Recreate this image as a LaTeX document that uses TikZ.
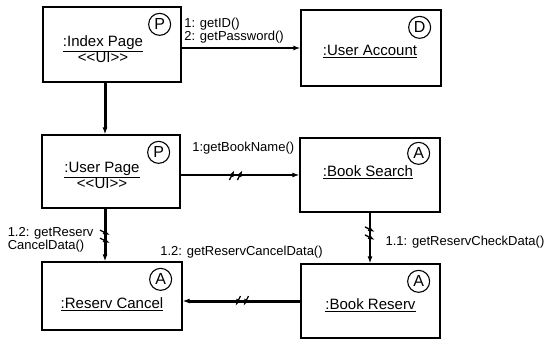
\documentclass[tikz,border=0pt]{standalone}
\usepackage{fontspec}
\setmainfont{Liberation Sans}
\usetikzlibrary{arrows.meta,positioning,calc,decorations.markings}

\begin{document}
\begin{tikzpicture}[x=1pt,y=1pt,>={Latex[length=7pt,width=5pt]},
    obj/.style={draw,line width=1.3pt,minimum width=140pt,minimum height=74pt,inner sep=0pt},
    objname/.style={font=\fontsize{15}{15.5}\selectfont,align=center,inner sep=0pt},
    kind/.style={draw,circle,line width=1.1pt,minimum size=22pt,inner sep=0pt,font=\fontsize{16}{16}\selectfont},
    msg/.style={font=\fontsize{13}{12}\selectfont,align=left,inner sep=1pt},
    thinlink/.style={->,line width=1.3pt},
    thicklink/.style={->,line width=3pt},
    slashes/.style={postaction={decorate},decoration={markings,
        mark=at position #1 with {\draw[line width=1.3pt] (-7,-5) -- (-2,5);
                                  \draw[line width=1.3pt] (1,-5) -- (6,5);}}}]
    \useasboundingbox (0,0) rectangle (550,341);

    % Objects
    \node[obj,minimum width=138pt,minimum height=75pt] (idx) at (112,296.5) {};
    \node[obj,minimum height=76pt] (acct) at (371,293) {};
    \node[obj,minimum width=138pt,minimum height=73pt] (user) at (111,169.5) {};
    \node[obj] (search) at (370,166) {};
    \node[obj,minimum height=68pt] (cancel) at (112,45) {};
    \node[obj,minimum width=139pt] (reserv) at (370.5,40) {};

    % Object names
    \node[objname] (idxname) at ([shift={(-9,-43)}]idx.north) {\underline{:Index Page}\\<{}<UI>{}>};
    \node[objname] (acctname) at ([shift={(-1,-42)}]acct.north) {\underline{:User Account}};
    \node[objname] (username) at ([shift={(-9,-41)}]user.north) {\underline{:User Page}\\<{}<UI>{}>};
    \node[objname] (searchname) at ([shift={(-2,-35)}]search.north) {\underline{:Book Search}};
    \node[objname] (cancelname) at ([shift={(0,-43)}]cancel.north) {\underline{:Reserv Cancel}};
    \node[objname] (reservname) at ([shift={(0,-42)}]reserv.north) {\underline{:Book Reserv}};

    % Stereotype circles
    \node[kind] (idxkind) at ([shift={(-22,-18)}]idx.north east) {P};
    \node[kind] (acctkind) at ([shift={(-22,-18)}]acct.north east) {D};
    \node[kind] (userkind) at ([shift={(-22,-18)}]user.north east) {P};
    \node[kind] (searchkind) at ([shift={(-22,-16)}]search.north east) {A};
    \node[kind] (cancelkind) at ([shift={(-22,-18)}]cancel.north east) {A};
    \node[kind] (reservkind) at ([shift={(-22,-18)}]reserv.north east) {A};

    % Messages
    \draw[thinlink] (idx.east |- acct.west) -- (acct.west)
        node[pos=0,msg,above right=3pt and 1pt] {1: getID()\\2: getPassword()};
    \draw[thicklink] ([xshift=-7pt]idx.south) -- ([xshift=-6pt]user.north);
    \draw[thinlink,slashes=0.47] (user.east |- search.west) -- (search.west)
        node[pos=0,msg,anchor=west,xshift=10pt,yshift=27pt] {1:getBookName()};
    \draw[thicklink,slashes=0.54] ([xshift=-6pt]user.south) -- ([xshift=-7pt]cancel.north)
        node[midway,msg,anchor=east,xshift=-9pt,yshift=-5pt] {1.2: getReserv\\CancelData()};
    \draw[thinlink,slashes=0.42] (search.south) -- (search.south |- reserv.north)
        node[midway,msg,anchor=west,xshift=14pt,yshift=-4pt] {1.1: getReservCheckData()};
    \draw[thicklink,slashes=0.5] (reserv.west) -- (reserv.west -| cancel.east)
        node[midway,msg,yshift=49pt] {1.2: getReservCancelData()};
\end{tikzpicture}
\end{document}
